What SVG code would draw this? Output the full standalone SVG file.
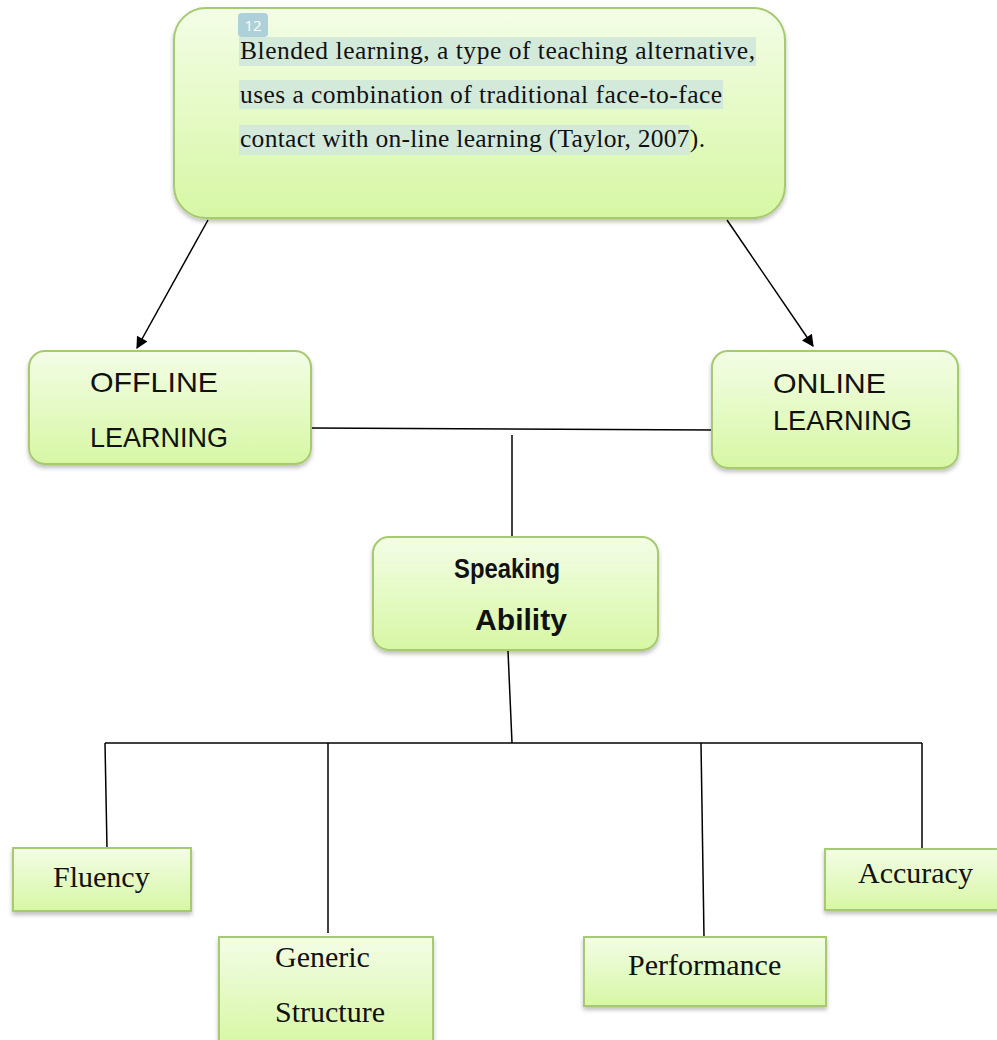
<svg xmlns="http://www.w3.org/2000/svg" width="997" height="1040" viewBox="0 0 997 1040">
<defs>
<linearGradient id="g" x1="0" y1="0" x2="0" y2="1">
<stop offset="0" stop-color="#f3fde6"/>
<stop offset="1" stop-color="#d7f7a4"/>
</linearGradient>
<filter id="sh" x="-10%" y="-10%" width="120%" height="130%">
<feDropShadow dx="0" dy="3" stdDeviation="2" flood-color="#000" flood-opacity="0.25"/>
</filter>
<marker id="arr" viewBox="0 0 10 10" refX="9" refY="5" markerWidth="14" markerHeight="12" orient="auto" markerUnits="userSpaceOnUse">
<path d="M0,0 L10,5 L0,10 z" fill="#000"/>
</marker>
<style>
.box{fill:url(#g);stroke:#a6ca70;stroke-width:2;filter:url(#sh)}
.ln{stroke:#000;stroke-width:1.5;fill:none}
.serif{font-family:"Liberation Serif","Times New Roman",serif;fill:#111}
.sans{font-family:"Liberation Sans",Arial,sans-serif;fill:#111}
.hl{fill:#d3eadb}
</style>
</defs>
<rect width="997" height="1040" fill="#fff"/>
<g id="connectors">
<line class="ln" x1="208" y1="220" x2="137" y2="348" marker-end="url(#arr)"/>
<line class="ln" x1="727" y1="220" x2="813" y2="346" marker-end="url(#arr)"/>
<line class="ln" x1="311" y1="428" x2="712" y2="430"/>
<line class="ln" x1="512" y1="435" x2="512" y2="538"/>
<line class="ln" x1="508" y1="651" x2="512" y2="743"/>
<line class="ln" x1="105" y1="743" x2="922" y2="743"/>
<line class="ln" x1="105" y1="743" x2="107" y2="848"/>
<line class="ln" x1="328" y1="743" x2="328" y2="933"/>
<line class="ln" x1="701" y1="743" x2="704" y2="937"/>
<line class="ln" x1="922" y1="743" x2="922" y2="849"/>
</g>
<g id="node-blended">
<rect class="box" x="174" y="8" width="611" height="210" rx="32"/>
<rect x="238" y="13" width="30" height="24" rx="4" fill="#aed0d8"/>
<text x="253" y="31" text-anchor="middle" font-family="'Open Sans','Noto Sans',sans-serif" font-size="15" fill="#fff">12</text>
<rect class="hl" x="239" y="37" width="517" height="29"/>
<rect class="hl" x="239" y="80" width="484" height="29"/>
<rect class="hl" x="239" y="125" width="451" height="30"/>
<text class="serif" x="240" y="59" font-size="25.5" textLength="515" lengthAdjust="spacing">Blended learning, a type of teaching alternative,</text>
<text class="serif" x="240" y="103" font-size="25.5" textLength="482" lengthAdjust="spacing">uses a combination of traditional face-to-face</text>
<text class="serif" x="240" y="147" font-size="25.5" textLength="465" lengthAdjust="spacing">contact with on-line learning (Taylor, 2007).</text>
</g>
<g id="node-offline">
<rect class="box" x="29" y="351" width="282" height="113" rx="16"/>
<text class="sans" x="90" y="392" font-size="28" textLength="128" lengthAdjust="spacingAndGlyphs">OFFLINE</text>
<text class="sans" x="90" y="447" font-size="28" textLength="138" lengthAdjust="spacingAndGlyphs">LEARNING</text>
</g>
<g id="node-online">
<rect class="box" x="712" y="351" width="246" height="117" rx="16"/>
<text class="sans" x="773" y="393" font-size="28" textLength="113" lengthAdjust="spacingAndGlyphs">ONLINE</text>
<text class="sans" x="773" y="430" font-size="28" textLength="139" lengthAdjust="spacingAndGlyphs">LEARNING</text>
</g>
<g id="node-speaking">
<rect class="box" x="373" y="537" width="285" height="113" rx="16"/>
<text class="sans" x="454" y="578" font-size="27" font-weight="bold" textLength="106" lengthAdjust="spacingAndGlyphs">Speaking</text>
<text class="sans" x="475" y="630" font-size="29" font-weight="bold" textLength="92" lengthAdjust="spacingAndGlyphs">Ability</text>
</g>
<g id="node-fluency">
<rect class="box" x="13" y="848" width="178" height="63"/>
<text class="serif" x="53" y="887" font-size="30">Fluency</text>
</g>
<g id="node-generic">
<rect class="box" x="219" y="937" width="214" height="110"/>
<text class="serif" x="275" y="967" font-size="30">Generic</text>
<text class="serif" x="275" y="1022" font-size="30">Structure</text>
</g>
<g id="node-performance">
<rect class="box" x="584" y="937" width="242" height="69"/>
<text class="serif" x="628" y="975" font-size="30">Performance</text>
</g>
<g id="node-accuracy">
<rect class="box" x="825" y="849" width="175" height="61"/>
<text class="serif" x="858" y="883" font-size="30">Accuracy</text>
</g>
</svg>
